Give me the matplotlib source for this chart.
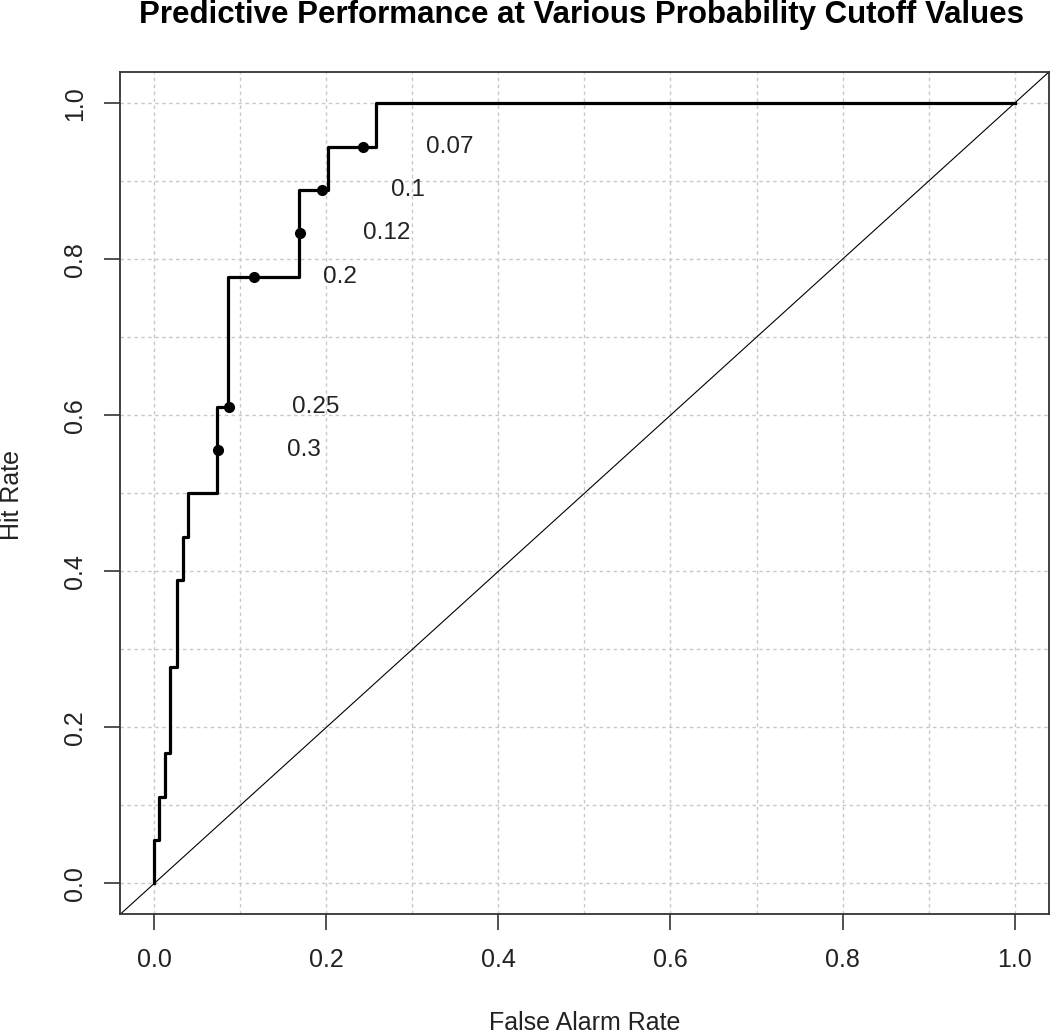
import numpy as np
import matplotlib
matplotlib.use("Agg")
import matplotlib.pyplot as plt

plt.rcParams['font.family'] = ['Liberation Sans', 'DejaVu Sans']

# ROC step curve: x positions of each riser and the hit rate reached there
riser_far = [0.0, 0.0058, 0.0124, 0.0182, 0.0267, 0.0330, 0.0395,
             0.0731, 0.0860, 0.1685, 0.2022, 0.2572]
riser_hit = [1, 2, 3, 5, 7, 8, 9, 11, 14, 16, 17, 18]  # in 18ths

# probability cutoffs marked on the curve
cutoff_labels = ['0.07', '0.1', '0.12', '0.2', '0.25', '0.3']
cutoff_far = [0.2428, 0.1952, 0.1696, 0.1158, 0.0871, 0.0737]
cutoff_hit = [17 / 18, 16 / 18, 15 / 18, 14 / 18, 11 / 18, 10 / 18]

ticks = [0.0, 0.2, 0.4, 0.6, 0.8, 1.0]
tick_labels = ['0.0', '0.2', '0.4', '0.6', '0.8', '1.0']

fig = plt.figure(figsize=(10.5, 10.34), dpi=100)
ax = fig.add_axes([0.1143, 0.1156, 0.8847, 0.8148])

lim = (-0.04, 1.04)
ax.set_xlim(lim)
ax.set_ylim(lim)

# grid every 0.1
for g in np.arange(0, 1.01, 0.1):
    ax.axvline(g, color='#c8c8c8', lw=1.0, ls=(0, (2.5, 2.5)), zorder=0)
    ax.axhline(g, color='#c8c8c8', lw=1.0, ls=(0, (2.5, 2.5)), zorder=0)

# no-skill diagonal
ax.plot(lim, lim, color='black', lw=0.8, zorder=2)

xs = [0.0] + riser_far + [1.0]
ys = [0.0] + [h / 18 for h in riser_hit] + [1.0]
ax.step(xs, ys, where='post', color='black', lw=2.3, zorder=3)

ax.plot(cutoff_far, cutoff_hit, 'o', color='black', ms=7, zorder=4)
for lab, fx, hy in zip(cutoff_labels, cutoff_far, cutoff_hit):
    ax.text(fx + 0.1, hy, lab, ha='center', va='center', fontsize=17.5, color='#222222')

ax.set_xticks(ticks)
ax.set_xticklabels(tick_labels)
ax.set_yticks(ticks)
ax.set_yticklabels(tick_labels, rotation=90, va='center')
ax.tick_params(axis='both', length=11.5, width=1.2, color='#333333',
               labelsize=18, labelcolor='#222222')
ax.tick_params(axis='x', pad=13)
ax.tick_params(axis='y', pad=12.5)

for s in ax.spines.values():
    s.set_color('#333333')
    s.set_linewidth(1.3)

fig.text(0.5567, 1 - 1030 / 1034, 'False Alarm Rate', ha='center', va='baseline',
         fontsize=18, color='#222222')
fig.text(12.5 / 1050, 1 - 495 / 1034, 'Hit Rate', ha='center', va='center',
         rotation=90, fontsize=18, color='#222222')
fig.text(0.5538, 1 - 23 / 1034, 'Predictive Performance at Various Probability Cutoff Values',
         ha='center', va='baseline', fontsize=22.5, fontweight='bold')

fig.savefig('out.png', dpi=100)
